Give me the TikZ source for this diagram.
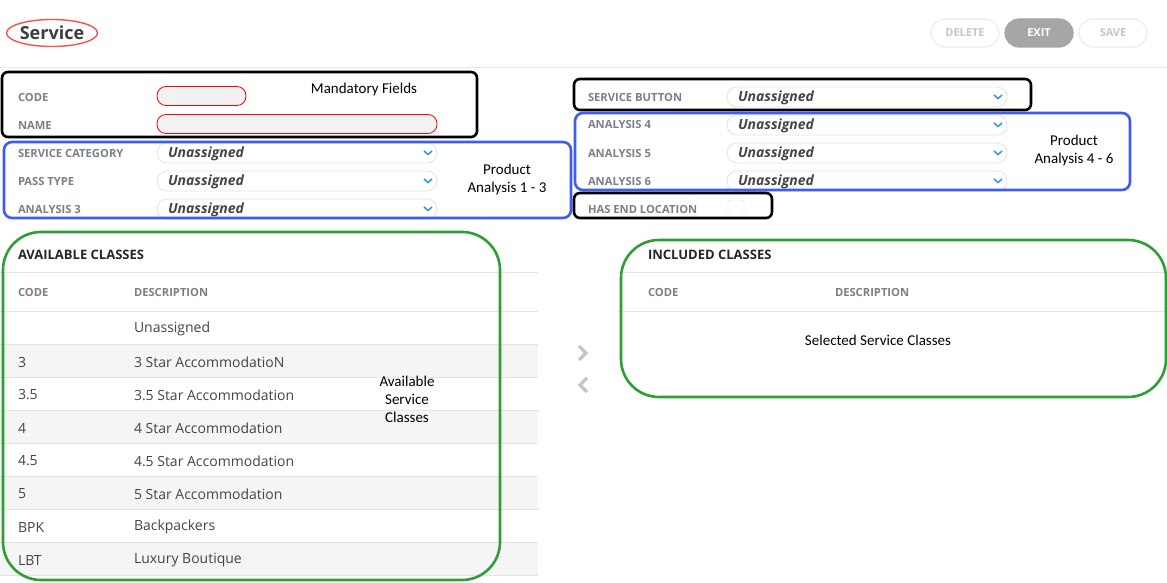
\documentclass[tikz,border=0pt]{standalone}
\usepackage{fontspec}
\setmainfont{Open Sans}
\newfontfamily\notefont{Carlito}
\usetikzlibrary{positioning, calc, shapes.geometric}

\definecolor{labelgray}{HTML}{7B8088}
\definecolor{rowgray}{HTML}{F5F5F5}
\definecolor{linegray}{HTML}{E3E3E3}
\definecolor{boxblue}{HTML}{3F5BF2}
\definecolor{boxgreen}{HTML}{2E9E35}
\definecolor{textdark}{HTML}{444444}
\definecolor{chevblue}{HTML}{3A9AD9}

% one dropdown: name, x, y, width
\newcommand{\dropdown}[4]{%
    \node[dd_pill, minimum width=#4] (#1) at (#2,#3) {};
    \node[dd_text] (#1_val) at ($(#1.west)+(11,1)$) {Unassigned};
    \draw[dd_chev] ($(#1.east)+(-13,-2)$) -- ++(4,3.5) -- ++(4,-3.5);
}

\begin{document}
\begin{tikzpicture}[
    x=1pt, y=-1pt,
    every node/.style={inner sep=0pt, outer sep=0pt},
    field_label/.style={
        anchor=west,
        font=\fontsize{11.2}{13}\selectfont\bfseries,
        text=labelgray
    },
    dd_pill/.style={
        draw=linegray,
        fill=white,
        rounded corners=10pt,
        minimum height=20pt,
        line width=0.8pt,
        anchor=west
    },
    dd_text/.style={
        anchor=west,
        font=\fontsize{14}{16}\selectfont\bfseries\itshape,
        text=textdark
    },
    dd_chev/.style={draw=chevblue, line width=1.6pt},
    mand_field/.style={
        draw=red,
        fill=gray!10,
        rounded corners=9pt,
        minimum height=19pt,
        line width=0.8pt,
        anchor=west
    },
    box_black/.style={draw=black, line width=2.6pt, rounded corners=6pt, anchor=north west},
    box_blue/.style={draw=boxblue, line width=2.6pt, rounded corners=8pt, anchor=north west},
    box_green/.style={draw=boxgreen, line width=2.6pt, rounded corners=38pt, anchor=north west},
    note/.style={font=\notefont\fontsize{15}{18}\selectfont, align=center},
    row_text/.style={anchor=west, font=\fontsize{14}{16}\selectfont, text=textdark},
    head_text/.style={anchor=west, font=\fontsize{13}{15}\selectfont\bfseries, text=black!85},
    btn/.style={
        draw=gray!15,
        line width=1.2pt,
        rounded corners=14pt,
        minimum width=68pt,
        minimum height=28pt,
        font=\fontsize{11}{13}\selectfont\bfseries,
        text=gray!45
    },
    sep/.style={draw=linegray, line width=1pt},
    chev_gray/.style={draw=gray!45, line width=3.5pt}
]
    \fill[white] (0,0) rectangle (1167,583);
    \useasboundingbox (0,0) rectangle (1167,583);

    % header
    \node[ellipse, draw=red!70, line width=1.4pt, minimum width=89, minimum height=27,
          font=\fontsize{18}{21}\selectfont\bfseries, text=textdark!90!black] (title) at (52,33) {Service};
    \node[btn] (delete_btn) at (965,33) {DELETE};
    \node[btn, fill=gray!70, draw=gray!70, text=white] (exit_btn) at (1039,33) {EXIT};
    \node[btn] (save_btn) at (1113,33) {SAVE};
    \draw[sep, draw=blue!10] (0,68) -- (1167,68);

    % left fields
    \node[field_label] (code_lbl) at (18,97) {CODE};
    \node[mand_field, minimum width=89] (code_in) at (157,96) {};
    \node[field_label] (name_lbl) at (18,125) {NAME};
    \node[mand_field, minimum width=280] (name_in) at (157,124) {};
    \node[field_label] (cat_lbl) at (18,153) {SERVICE CATEGORY};
    \dropdown{cat_dd}{157}{153}{280}
    \node[field_label] (pass_lbl) at (18,181) {PASS TYPE};
    \dropdown{pass_dd}{157}{181}{280}
    \node[field_label] (an3_lbl) at (18,209) {ANALYSIS 3};
    \dropdown{an3_dd}{157}{209}{280}

    % right fields
    \node[field_label] (btn_lbl) at (588,97) {SERVICE BUTTON};
    \dropdown{btn_dd}{727}{97}{280}
    \node[field_label] (an4_lbl) at (588,125) {ANALYSIS 4};
    \dropdown{an4_dd}{727}{125}{280}
    \node[field_label] (an5_lbl) at (588,153) {ANALYSIS 5};
    \dropdown{an5_dd}{727}{153}{280}
    \node[field_label] (an6_lbl) at (588,181) {ANALYSIS 6};
    \dropdown{an6_dd}{727}{181}{280}
    \node[field_label] (end_lbl) at (588,209) {HAS END LOCATION};
    \node[draw=gray!25, rounded corners=2pt, minimum width=16, minimum height=18, anchor=north west] (end_chk) at (728,200) {};

    % available classes table
    \node[head_text] (avail_head) at (18,255) {AVAILABLE CLASSES};
    \draw[sep] (0,272) -- (538,272);
    \node[field_label] (avail_code) at (18,292) {CODE};
    \node[field_label] (avail_desc) at (134,292) {DESCRIPTION};
    \draw[sep] (0,311) -- (538,311);
    \foreach \code/\desc [count=\i] in {{}/Unassigned, 3/3 Star AccommodatioN, 3.5/3.5 Star Accommodation,
            4/4 Star Accommodation, 4.5/4.5 Star Accommodation, 5/5 Star Accommodation,
            BPK/Backpackers, LBT/Luxury Boutique} {
        \pgfmathsetmacro\ytop{311+33*(\i-1)}
        \ifodd\i\else \fill[rowgray] (0,\ytop+0.5) rectangle (538,\ytop+32.5); \fi
        \node[row_text] (code\i) at (18,\ytop+18) {\code};
        \node[row_text] (desc\i) at (134,\ytop+18) {\desc};
        \draw[sep] (0,\ytop+33) -- (538,\ytop+33);
    }

    % move buttons
    \draw[chev_gray] (579,346) -- (586,353) -- (579,360);
    \draw[chev_gray] (587,378) -- (580,385) -- (587,392);

    % included classes table
    \node[head_text] (incl_head) at (648,255) {INCLUDED CLASSES};
    \draw[sep] (618,272) -- (1167,272);
    \node[field_label] (incl_code) at (648,292) {CODE};
    \node[field_label] (incl_desc) at (835,292) {DESCRIPTION};
    \draw[sep] (618,311) -- (1167,311);

    % annotation boxes
    \node[box_black, minimum width=475, minimum height=65] (mandatory) at (2,72) {};
    \node[box_blue, minimum width=567, minimum height=76] (prod13) at (4,142) {};
    \node[box_black, minimum width=457, minimum height=31] (svc_btn) at (574,79) {};
    \node[box_blue, minimum width=555, minimum height=77] (prod46) at (575,113) {};
    \node[box_black, minimum width=198, minimum height=25] (end_loc) at (574,193) {};
    \node[box_green, minimum width=497, minimum height=348] (avail_box) at (3,232) {};
    \node[box_green, minimum width=545, minimum height=157] (incl_box) at (621,240) {};

    % annotation texts
    \node[note] (mand_note) at (364,90) {Mandatory Fields};
    \node[note] (prod13_note) at (507,180) {Product\\Analysis 1 - 3};
    \node[note] (prod46_note) at (1074,151) {Product\\Analysis 4 - 6};
    \node[note] (avail_note) at (407,399) {Available\\Service\\Classes};
    \node[note] (incl_note) at (878,340) {Selected Service Classes};
\end{tikzpicture}
\end{document}
